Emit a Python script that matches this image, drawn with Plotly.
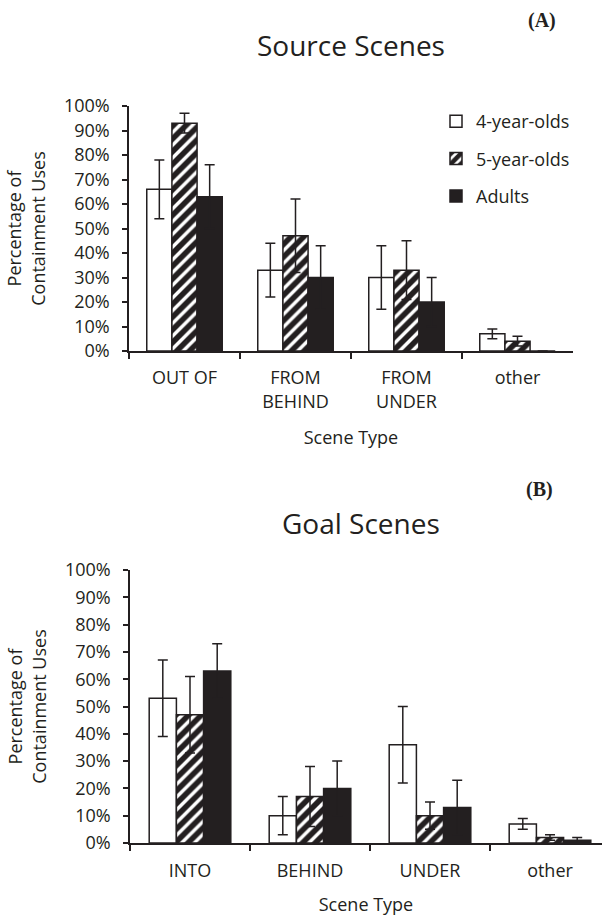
import plotly.graph_objects as go

W, H = 602, 916

# ---------------- data ----------------
src_categories = ["OUT OF", "FROM<br>BEHIND", "FROM<br>UNDER", "other"]
src_4yo = [66, 33, 30, 7]
src_4yo_err = [12, 11, 13, 2]
src_5yo = [93, 47, 33, 4]
src_5yo_err = [4, 15, 12, 2]
src_adults = [63, 30, 20, 0]
src_adults_err = [13, 13, 10, 0]

goal_categories = ["INTO", "BEHIND", "UNDER", "other"]
goal_4yo = [53, 10, 36, 7]
goal_4yo_err = [14, 7, 14, 2]
goal_5yo = [47, 17, 10, 2]
goal_5yo_err = [14, 11, 5, 1]
goal_adults = [63, 20, 13, 1]
goal_adults_err = [10, 10, 10, 1]

series_names = ["4-year-olds", "5-year-olds", "Adults"]
y_ticks = list(range(0, 101, 10))
y_ticktext = [f"{v}%" for v in y_ticks]

INK = "#231F20"
FONT = "Open Sans"
FS = 18


def px_x(p):
    return p / W


def px_y(p):
    return 1 - p / H


def err(arr):
    return dict(type="data", array=arr, color=INK, thickness=1.5, width=5, visible=True)


styles = [
    dict(color="white", line=dict(color=INK, width=1.5)),
    dict(color="white", line=dict(color=INK, width=1.5),
         pattern=dict(shape="/", fgcolor=INK, bgcolor="white", fgopacity=1,
                      size=9, solidity=0.62)),
    dict(color=INK, line=dict(color=INK, width=1.5)),
]

fig = go.Figure()

src_vals = [(src_4yo, src_4yo_err), (src_5yo, src_5yo_err), (src_adults, src_adults_err)]
goal_vals = [(goal_4yo, goal_4yo_err), (goal_5yo, goal_5yo_err), (goal_adults, goal_adults_err)]

for i, name in enumerate(series_names):
    v, e = src_vals[i]
    fig.add_trace(go.Bar(
        x=src_categories, y=v, name=name, marker=styles[i], error_y=err(e),
        xaxis="x", yaxis="y", legendgroup=f"g{i}", showlegend=True,
    ))
for i, name in enumerate(series_names):
    v, e = goal_vals[i]
    fig.add_trace(go.Bar(
        x=goal_categories, y=v, name=name, marker=styles[i], error_y=err(e),
        xaxis="x2", yaxis="y2", legendgroup=f"g{i}", showlegend=False,
    ))

axis_common_x = dict(
    type="category", showline=True, linecolor=INK, linewidth=1.5,
    ticks="outside", tickson="boundaries", ticklen=6, tickcolor=INK, tickwidth=1.5,
    showgrid=False, zeroline=False, automargin=False,
    tickfont=dict(family=FONT, size=FS, color=INK),
)
axis_common_y = dict(
    range=[0, 100], tickvals=y_ticks, ticktext=y_ticktext,
    showline=True, linecolor=INK, linewidth=1.5,
    ticks="outside", ticklen=5, tickcolor=INK, tickwidth=1.5,
    showgrid=False, zeroline=False, automargin=False,
    tickfont=dict(family=FONT, size=FS, color=INK), ticklabelstandoff=9,
    title=dict(text="Percentage of<br>Containment Uses",
               font=dict(family=FONT, size=FS, color=INK), standoff=14),
)

fig.update_layout(
    width=W, height=H,
    margin=dict(l=0, r=0, t=0, b=0),
    paper_bgcolor="white", plot_bgcolor="white",
    barmode="group", bargap=0.32, bargroupgap=0,
    font=dict(family=FONT, color=INK),
    xaxis=dict(axis_common_x, domain=[px_x(129), px_x(573)], anchor="y", range=[-0.5, 3.5],
               ticklabelstandoff=10,
               title=dict(text="Scene Type", font=dict(family=FONT, size=FS, color=INK), standoff=20)),
    yaxis=dict(axis_common_y, domain=[px_y(351), px_y(106)], anchor="x"),
    xaxis2=dict(axis_common_x, domain=[px_x(130), 1.0], anchor="y2",
                range=[-0.5, 3.5 - 8 / 120], ticklabelstandoff=11,
                title=dict(text="Scene Type", font=dict(family=FONT, size=FS, color=INK), standoff=17)),
    yaxis2=dict(axis_common_y, domain=[px_y(843), px_y(570)], anchor="x2"),
    legend=dict(x=px_x(436), y=px_y(103), xanchor="left", yanchor="top",
                font=dict(family=FONT, size=FS, color=INK), tracegroupgap=11,
                bgcolor="rgba(0,0,0,0)"),
    showlegend=True,
    annotations=[
        dict(text="Source Scenes", x=px_x(351), y=px_y(45), xref="paper", yref="paper",
             xanchor="center", yanchor="middle",
             showarrow=False, font=dict(family=FONT, size=28, color=INK)),
        dict(text="Goal Scenes", x=px_x(361), y=px_y(523), xref="paper", yref="paper",
             xanchor="center", yanchor="middle",
             showarrow=False, font=dict(family=FONT, size=28, color=INK)),
        dict(text="<b>(A)</b>", x=px_x(542), y=px_y(20), xref="paper", yref="paper",
             xanchor="center", yanchor="middle",
             showarrow=False, font=dict(family="Liberation Serif", size=20, color=INK)),
        dict(text="<b>(B)</b>", x=px_x(539), y=px_y(489), xref="paper", yref="paper",
             xanchor="center", yanchor="middle",
             showarrow=False, font=dict(family="Liberation Serif", size=20, color=INK)),
    ],
)

fig.write_html("out.html", config={"displayModeBar": False},
               post_script="document.body.style.margin='0px';")
